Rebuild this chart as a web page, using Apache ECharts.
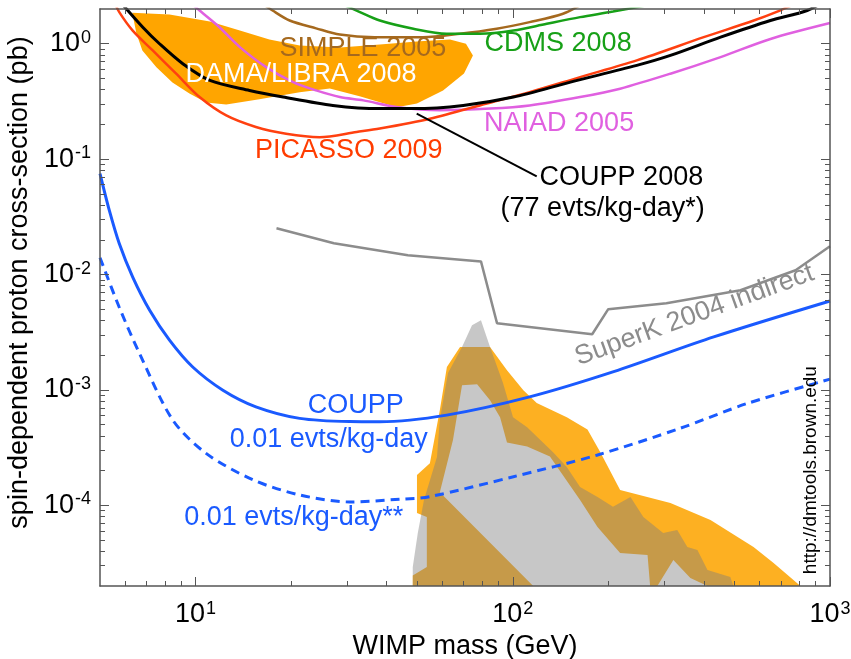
<!DOCTYPE html>
<html>
<head>
<meta charset="utf-8">
<script src="https://cdn.jsdelivr.net/npm/echarts@6/dist/echarts.min.js"></script>
<style>
  html, body { margin: 0; padding: 0; background: #fff; }
  #chart { width: 851px; height: 659px; }
</style>
</head>
<body>
<div id="chart"></div>
<script>
// exclusion curves, [WIMP mass GeV, cross-section pb]
const couppSolid = [[5, 0.075], [5.35, 0.036], [5.75, 0.0186], [6.34, 0.0095], [7.17, 0.0049], [8.28, 0.0027],
  [9.8, 0.00158], [12.2, 9.95e-4], [15.5, 7.14e-4], [21.3, 5.67e-4], [30.6, 5.32e-4], [38.1, 5.3e-4],
  [61.9, 6.05e-4], [113, 8.7e-4], [208, 1.44e-3], [430, 2.88e-3], [1000, 5.9e-3]];
const couppDashed = [[5, 0.014], [5.75, 0.0052], [6.66, 0.00207], [8.48, 5.48e-4], [10.8, 2.82e-4], [15.2, 1.66e-4],
  [21.3, 1.23e-4], [30.6, 1.07e-4], [44.1, 1.13e-4], [54.8, 1.19e-4], [100.5, 1.77e-4], [184, 2.72e-4],
  [337, 4.65e-4], [548, 7.63e-4], [1000, 1.24e-3]];
const coupp2008 = [[5.8, 2.3], [6.82, 1.39], [7.7, 1.0], [9.12, 0.671], [11.1, 0.481], [14.8, 0.394], [18.9, 0.345],
  [27.1, 0.292], [38.1, 0.274], [48.6, 0.274], [69.8, 0.292], [100.5, 0.345], [152, 0.465], [246, 0.649],
  [314, 0.792], [452, 1.14], [649, 1.59], [847, 1.94], [1000, 2.5]];
const picasso2009 = [[5.55, 2.3], [5.75, 1.88], [6.34, 1.3], [7.33, 0.875], [8.69, 0.55], [10.3, 0.345], [12.5, 0.239],
  [15.5, 0.19], [19.3, 0.166], [24.6, 0.155], [32.2, 0.172], [38.1, 0.184], [54.8, 0.224], [82.8, 0.303],
  [113, 0.381], [163, 0.514], [246, 0.717], [400, 1.14], [575, 1.59], [682, 1.9], [800, 2.3]];
const naiad2005 = [[9.6, 2.3], [10.3, 1.94], [11.9, 1.39], [13.8, 0.935], [16.7, 0.627], [20.3, 0.465], [24.0, 0.394],
  [28.5, 0.345], [33.8, 0.323], [43.0, 0.283], [59.0, 0.265], [84.8, 0.274], [113, 0.292], [163, 0.345],
  [218, 0.408], [314, 0.55], [452, 0.766], [649, 1.1], [1000, 1.51]];
const cdms2008 = [[28, 2.3], [32.2, 1.94], [38.1, 1.59], [48.6, 1.35], [61.9, 1.22], [78.8, 1.22], [100.5, 1.3],
  [128, 1.49], [163, 1.7], [207, 1.9], [300, 2.3]];
const simple2005 = [[16, 2.3], [17.5, 1.94], [19.8, 1.59], [24.0, 1.36], [28.5, 1.2], [36.7, 1.14], [52.1, 1.14],
  [68.2, 1.22], [89.0, 1.35], [113, 1.54], [144, 1.82], [170, 2.3]];
const superK2004 = [[18.0, 0.0252], [27.3, 0.0187], [46.7, 0.0147], [79.4, 0.0130], [89.2, 0.00379], [178, 0.00304],
  [200, 0.00501], [305, 0.00564], [522, 0.00731], [779, 0.0109], [1000, 0.0176]];
const couppPointer = [[49.8, 0.248], [119, 0.071]];

// regions (polygon outlines)
const damaLibra = [[6.32, 1.86], [8.28, 1.79], [11.1, 1.56], [13.8, 1.3], [17.1, 1.09], [21.3, 0.967], [28.5, 0.929],
  [38.1, 0.986], [51.0, 1.05], [63.4, 1.09], [71.2, 1.0], [74.9, 0.792], [70.2, 0.553], [60.3, 0.394], [49.9, 0.304],
  [43.1, 0.281], [32.9, 0.35], [26.5, 0.41], [21.3, 0.379], [15.9, 0.33], [12.5, 0.298], [10.8, 0.31], [9.57, 0.371],
  [8.46, 0.462], [7.53, 0.624], [6.8, 0.875], [6.51, 1.23]];
const modelOrange = [[68.2, 2.35e-3], [84.8, 2.35e-3], [95.9, 1.48e-3], [108, 9.96e-4], [119, 7.69e-4], [148, 5.81e-4],
  [172, 4.54e-4], [189, 2.87e-4], [218, 1.36e-4], [314, 1.05e-4], [420, 7.46e-5], [574, 4.35e-5], [664, 3.17e-5],
  [807, 2e-5], [48.4, 2e-5], [48.4, 2.46e-5], [53.6, 2.92e-5], [53.6, 7.92e-5], [49.9, 8.58e-5], [49.9, 1.83e-4],
  [54.8, 2.32e-4], [58.9, 6.68e-4], [62.0, 1.58e-3]];
const modelHole = [[69.2, 1.1e-3], [77.2, 1.12e-3], [84.8, 8.16e-4], [91.2, 5.81e-4], [95.9, 3.5e-4], [111, 3.24e-4],
  [131, 2.65e-4], [163, 1.11e-4], [185, 6.49e-5], [218, 3.86e-5], [266, 3.71e-5], [271, 2e-5], [116, 2e-5],
  [58.9, 1.3e-4], [64.8, 3.68e-4]];
const modelHole2 = [[285.6, 2e-5], [320.8, 3.36e-5], [363, 2.35e-5], [411, 2e-5]];
const modelGray = [[79.4, 4.02e-3], [84.8, 2.35e-3], [93.2, 1.145e-3], [100.2, 5.81e-4], [111, 4.76e-4], [134, 2.89e-4],
  [148, 2.15e-4], [163, 1.44e-4], [185, 1.18e-4], [207, 9.7e-5], [235, 1.18e-4], [258, 7.92e-5], [298, 5.76e-5],
  [330, 6.11e-5], [355, 4.35e-5], [382, 4.1e-5], [411, 2.75e-5], [485, 2.39e-5], [496, 2e-5], [48.4, 2e-5],
  [48.4, 2.92e-5], [50.2, 5.76e-5], [52.5, 1.11e-4], [57.7, 2.62e-4], [58.9, 5.48e-4], [62.5, 1.4e-3],
  [69.2, 2.35e-3], [74.4, 3.64e-3]];

// annotations
const labelText = ['SIMPLE 2005', 'DAMA/LIBRA 2008', 'CDMS 2008', 'NAIAD 2005', 'PICASSO 2009', 'COUPP 2008',
  '(77 evts/kg-day*)', 'SuperK 2004 indirect', 'COUPP', '0.01 evts/kg-day', '0.01 evts/kg-day**',
  'http://dmtools.brown.edu'];
const labelX = [33.7, 21.5, 139, 140, 30.4, 220, 192, 374, 32.0, 26.3, 20.4, 869];
const labelY = [0.911, 0.542, 1.0, 0.204, 0.119, 0.0689, 0.0371, 0.00444, 7.38e-4, 3.68e-4, 7.77e-5, 2.02e-4];

const xMajor = [10, 100, 1000];
const xMinor = [6, 7, 8, 9, 20, 30, 40, 50, 60, 70, 80, 90, 200, 300, 400, 500, 600, 700, 800, 900];
const yMajor = [1e-4, 1e-3, 1e-2, 1e-1, 1];
const yMinor = [3e-5, 4e-5, 5e-5, 6e-5, 7e-5, 8e-5, 9e-5, 2e-4, 3e-4, 4e-4, 5e-4, 6e-4, 7e-4, 8e-4, 9e-4,
  2e-3, 3e-3, 4e-3, 5e-3, 6e-3, 7e-3, 8e-3, 9e-3, 0.02, 0.03, 0.04, 0.05, 0.06, 0.07, 0.08, 0.09,
  0.2, 0.3, 0.4, 0.5, 0.6, 0.7, 0.8, 0.9];

const FONT = '"Liberation Sans", Arial, sans-serif';
const AXIS_COLOR = '#555';

const labelColors = {
  'SIMPLE 2005': '#a5691e', 'DAMA/LIBRA 2008': '#fff', 'CDMS 2008': '#17a017', 'NAIAD 2005': '#e060e0',
  'PICASSO 2009': '#ff3c00', 'COUPP 2008': '#000', '(77 evts/kg-day*)': '#000', 'SuperK 2004 indirect': '#8c8c8c',
  'COUPP': '#1a5aff', '0.01 evts/kg-day': '#1a5aff', '0.01 evts/kg-day**': '#1a5aff', 'http://dmtools.brown.edu': '#000'
};
const labelRotate = { 'SuperK 2004 indirect': 20, 'http://dmtools.brown.edu': 90 };
const labelSize = { 'http://dmtools.brown.edu': 19 };

function powLabel(value) {
  const e = Math.round(Math.log10(value));
  return '{b|10}{e|' + e + '}';
}

const tickRich = {
  b: { fontSize: 27, fontFamily: FONT, color: '#000', lineHeight: 30 },
  e: { fontSize: 18, fontFamily: FONT, color: '#000', verticalAlign: 'top', lineHeight: 18, padding: [0, 0, 0, 1] }
};

function makeAxis(dim, position, ticks, len, main) {
  const isX = dim === 'x';
  const ax = {
    type: 'log',
    min: isX ? 5 : 2e-5,
    max: isX ? 1000 : 2,
    position: position,
    z: 10,
    splitLine: { show: false },
    axisLine: { show: main, lineStyle: { color: AXIS_COLOR, width: 1.5 } },
    axisTick: { show: true, inside: true, length: len, customValues: ticks, lineStyle: { color: AXIS_COLOR, width: 1 } },
    axisLabel: { show: false },
    axisPointer: { show: false }
  };
  if (main && (position === 'bottom' || position === 'left')) {
    ax.axisLabel = {
      show: true,
      customValues: isX ? xMajor : yMajor,
      margin: isX ? 14 : 9,
      formatter: powLabel,
      rich: tickRich
    };
    ax.name = isX ? 'WIMP mass (GeV)' : 'spin-dependent proton cross-section (pb)';
    ax.nameLocation = 'middle';
    ax.nameGap = isX ? 40 : 56;
    ax.nameTextStyle = { fontSize: 27, fontFamily: FONT, color: '#000', padding: isX ? 0 : [0, 0, 0, 30] };
  }
  return ax;
}

function curve(name, data, color, width, dashed, smooth) {
  return {
    name: name,
    type: 'line',
    data: data,
    smooth: smooth,
    symbol: 'none',
    z: 5,
    silent: true,
    clip: true,
    lineStyle: { color: color, width: width, type: dashed ? [9, 6] : 'solid' }
  };
}

function region(points, fill, z) {
  return {
    type: 'custom',
    silent: true,
    z: z,
    data: [points[0]],
    renderItem: function (params, api) {
      return {
        type: 'polygon',
        shape: { points: points.map(function (p) { return api.coord(p); }) },
        style: { fill: fill }
      };
    }
  };
}

const chart = echarts.init(document.getElementById('chart'), null, { renderer: 'canvas' });

chart.setOption({
  animation: false,
  backgroundColor: '#fff',
  textStyle: { fontFamily: FONT },
  grid: { left: 100, right: 21, top: 9, bottom: 73, containLabel: false, outerBoundsMode: 'none' },
  xAxis: [
    makeAxis('x', 'bottom', xMajor, 9, true),
    makeAxis('x', 'bottom', xMinor, 5, false),
    makeAxis('x', 'top', xMajor, 9, true),
    makeAxis('x', 'top', xMinor, 5, false)
  ],
  yAxis: [
    makeAxis('y', 'left', yMajor, 9, true),
    makeAxis('y', 'left', yMinor, 5, false),
    makeAxis('y', 'right', yMajor, 9, true),
    makeAxis('y', 'right', yMinor, 5, false)
  ],
  series: [
    region(damaLibra, '#ffa500', 1),
    region(modelOrange, '#fdb022', 1),
    region(modelHole, '#fff', 2),
    region(modelHole2, '#fff', 2),
    region(modelGray, 'rgba(125,125,125,0.43)', 3),
    curve('SIMPLE 2005', simple2005, '#a5691e', 2.5, false, 0.3),
    curve('CDMS 2008', cdms2008, '#17a017', 2.5, false, 0.3),
    curve('NAIAD 2005', naiad2005, '#e060e0', 2.5, false, 0.3),
    curve('PICASSO 2009', picasso2009, '#ff4010', 2.5, false, 0.3),
    curve('COUPP 2008', coupp2008, '#000', 3, false, 0.3),
    curve('pointer', couppPointer, '#000', 2, false, false),
    curve('SuperK 2004', superK2004, '#8c8c8c', 2.5, false, false),
    curve('COUPP', couppSolid, '#1a5aff', 3, false, 0.3),
    curve('COUPP proj', couppDashed, '#1a5aff', 3, true, 0.3),
    {
      type: 'scatter',
      silent: true,
      z: 8,
      symbolSize: 0,
      itemStyle: { opacity: 1 },
      data: labelText.map(function (t, i) {
        return {
          name: t,
          value: [labelX[i], labelY[i]],
          label: {
            color: labelColors[t],
            rotate: labelRotate[t] || 0,
            fontSize: labelSize[t] || 27
          }
        };
      }),
      label: {
        show: true,
        position: 'inside',
        align: 'center',
        verticalAlign: 'middle',
        opacity: 1,
        fontFamily: FONT,
        formatter: function (p) { return p.name; }
      }
    }
  ]
});
</script>
</body>
</html>
